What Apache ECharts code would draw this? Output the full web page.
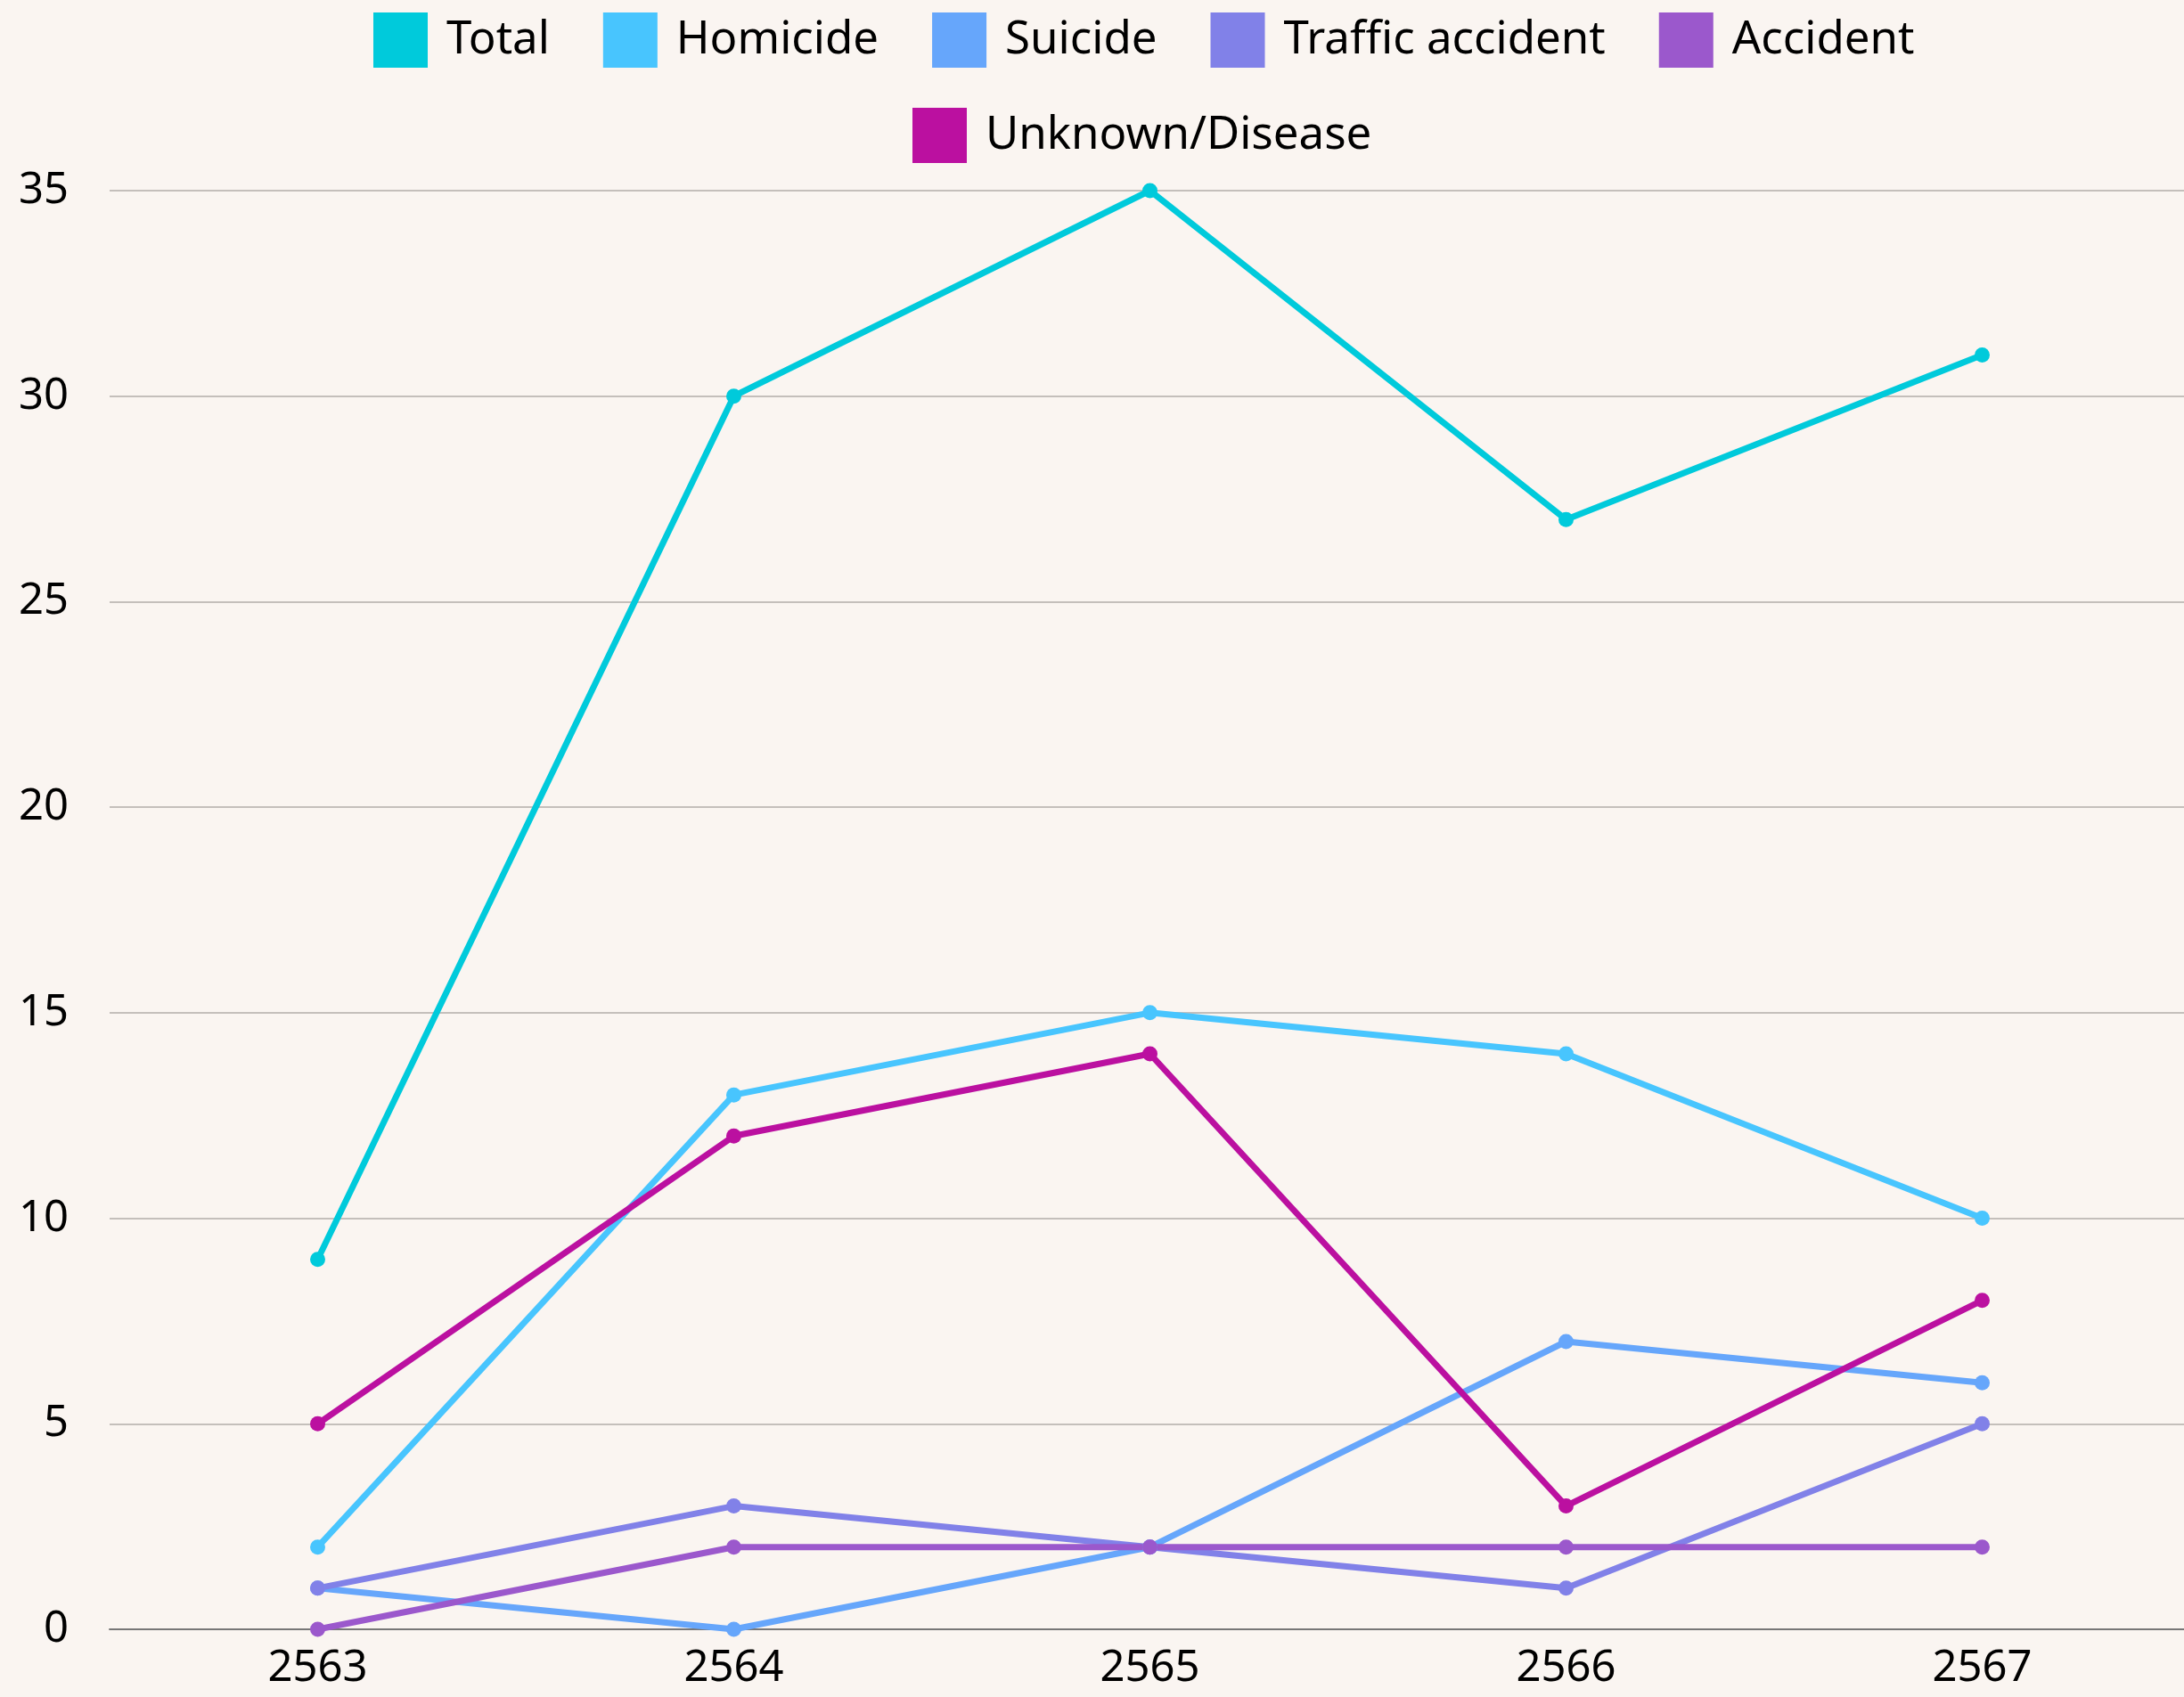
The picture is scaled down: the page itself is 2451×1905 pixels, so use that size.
<!DOCTYPE html>
<html>
<head>
<meta charset="utf-8">
<script src="https://cdn.jsdelivr.net/npm/echarts@6/dist/echarts.min.js"></script>
<style>
html,body{margin:0;padding:0;background:#FAF5F1;}
#chart{width:2451px;height:1905px;}
</style>
</head>
<body>
<div id="chart"></div>
<script>
const years = ['2563', '2564', '2565', '2566', '2567'];
const total = [9, 30, 35, 27, 31];
const homicide = [2, 13, 15, 14, 10];
const suicide = [1, 0, 2, 7, 6];
const traffic = [1, 3, 2, 1, 5];
const accident = [0, 2, 2, 2, 2];
const unknown = [5, 12, 14, 3, 8];
const yTicks = [0, 5, 10, 15, 20, 25, 30, 35];

const names = ['Total', 'Homicide', 'Suicide', 'Traffic accident', 'Accident', 'Unknown/Disease'];
const colors = ['#00CADB', '#48C5FE', '#66A6FB', '#8181E8', '#9B58CC', '#BB10A0'];
const dataSets = [total, homicide, suicide, traffic, accident, unknown];

const chart = echarts.init(document.getElementById('chart'));
const font = '"Noto Sans", sans-serif';
const legendBase = {
  orient: 'horizontal',
  itemWidth: 61,
  itemHeight: 62,
  itemGap: 60,
  icon: 'rect',
  padding: 0,
  textStyle: { fontFamily: font, fontSize: 51, color: '#000', padding: [22, 0, 0, 16] }
};
chart.setOption({
  backgroundColor: '#FAF5F1',
  color: colors,
  animation: false,
  legend: [
    Object.assign({}, legendBase, { left: 419, top: 14, data: names.slice(0, 5) }),
    Object.assign({}, legendBase, { left: 1024, top: 121, data: names.slice(5) })
  ],
  grid: { left: 123, right: -7, top: 214, bottom: 76, containLabel: false, outerBoundsMode: 'none' },
  xAxis: {
    type: 'category',
    data: years,
    boundaryGap: true,
    axisLine: { show: true, lineStyle: { color: '#777', width: 2 } },
    axisTick: { show: false },
    axisLabel: { fontFamily: font, fontSize: 49, color: '#000', margin: 20 }
  },
  yAxis: {
    type: 'value',
    min: yTicks[0],
    max: yTicks[yTicks.length - 1],
    interval: 5,
    axisLine: { show: false },
    axisTick: { show: false },
    axisLabel: { fontFamily: font, fontSize: 49, color: '#000', margin: 46 },
    splitLine: { lineStyle: { color: '#C4BFBB', width: 2 } }
  },
  series: names.map((n, i) => ({
    name: n,
    type: 'line',
    data: dataSets[i],
    symbol: 'circle',
    symbolSize: 17,
    lineStyle: { width: 7, color: colors[i] },
    itemStyle: { color: colors[i] }
  }))
});
</script>
</body>
</html>
